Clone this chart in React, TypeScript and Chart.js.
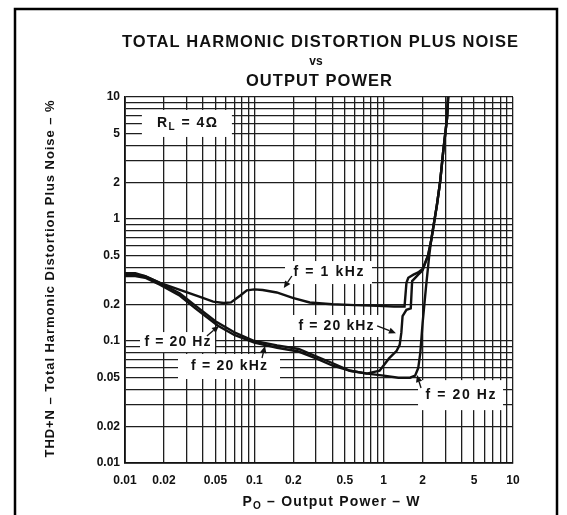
import React, { useEffect, useRef } from 'react';
import { Chart, registerables } from 'chart.js';

Chart.register(...registerables);

// ---------------- data ----------------
const xTickLabels = ['0.01', '0.02', '0.05', '0.1', '0.2', '0.5', '1', '2', '5', '10'];
const yTickLabels = ['0.01', '0.02', '0.05', '0.1', '0.2', '0.5', '1', '2', '5', '10'];
const gridDecades = [0.01, 0.1, 1];
const gridSteps = [1, 2, 3, 4, 5, 6, 7, 8, 9];
const axisMin = 0.01;
const axisMax = 10;

// f = 1 kHz
const power1kHz = [0.01, 0.012, 0.0143, 0.0186, 0.0266, 0.038, 0.048, 0.058, 0.066, 0.0775, 0.0875, 0.1, 0.116, 0.149, 0.198, 0.268, 0.4, 0.6, 0.9, 1.2, 1.45, 1.5, 1.55, 1.7, 1.85, 2.0, 2.2, 2.32, 2.58, 2.73, 2.88, 3.09, 3.15];
const thd1kHz = [0.36, 0.36, 0.34, 0.3, 0.262, 0.23, 0.21, 0.205, 0.207, 0.235, 0.26, 0.265, 0.262, 0.25, 0.226, 0.207, 0.2, 0.197, 0.194, 0.192, 0.192, 0.3, 0.33, 0.35, 0.365, 0.39, 0.5, 0.65, 1.3, 2.0, 3.5, 6.7, 10];

// f = 20 kHz
const power20kHz = [0.01, 0.012, 0.0143, 0.0186, 0.0266, 0.035, 0.05, 0.07, 0.1, 0.15, 0.22, 0.3, 0.4, 0.55, 0.74, 0.93, 1.1, 1.26, 1.33, 1.37, 1.4, 1.5, 1.62, 1.66, 1.85, 2.0, 2.2, 2.32, 2.58, 2.73, 2.88, 3.09, 3.15];
const thd20kHz = [0.35, 0.35, 0.34, 0.3, 0.245, 0.195, 0.145, 0.118, 0.1, 0.092, 0.086, 0.075, 0.066, 0.057, 0.054, 0.057, 0.072, 0.083, 0.093, 0.117, 0.16, 0.18, 0.185, 0.31, 0.35, 0.38, 0.5, 0.65, 1.3, 2.0, 3.5, 6.7, 10];

// f = 20 Hz
const power20Hz = [0.01, 0.012, 0.0143, 0.0186, 0.0266, 0.035, 0.052, 0.07, 0.1, 0.15, 0.22, 0.3, 0.4, 0.55, 0.75, 1.0, 1.3, 1.6, 1.75, 1.85, 1.92, 2.0, 2.12, 2.25, 2.32, 2.58, 2.73, 2.88, 3.09, 3.15];
const thd20Hz = [0.34, 0.34, 0.33, 0.29, 0.235, 0.185, 0.134, 0.112, 0.097, 0.088, 0.082, 0.072, 0.063, 0.057, 0.054, 0.052, 0.05, 0.05, 0.052, 0.06, 0.08, 0.14, 0.27, 0.5, 0.65, 1.3, 2.0, 3.5, 6.7, 10];

const titleLines = ['TOTAL HARMONIC DISTORTION PLUS NOISE', 'vs', 'OUTPUT POWER'];
type Run = [string, boolean];
const xAxisTitle: Run[] = [['P', false], ['O', true], [' – Output Power – W', false]];
const yAxisTitle: Run[] = [['THD+N – Total Harmonic Distortion Plus Noise – %', false]];

// annotation labels, anchored in data coordinates (P in W, THD+N in %)
const curveLabels = [
  { runs: [['R', false], ['L', true], [' = 4Ω', false]] as Run[], p: 0.0301, v: 6.07, w: 90, h: 27, tw: 60 },
  { runs: [['f = 1 kHz', false]] as Run[], p: 0.3746, v: 0.364, w: 87, h: 23, tw: 70 },
  { runs: [['f = 20 kHz', false]] as Run[], p: 0.428, v: 0.1327, w: 92, h: 22, tw: 75 },
  { runs: [['f = 20 Hz', false]] as Run[], p: 0.02547, v: 0.098, w: 75, h: 20, tw: 66 },
  { runs: [['f = 20 kHz', false]] as Run[], p: 0.0637, v: 0.0618, w: 102, h: 25, tw: 76 },
  { runs: [['f = 20 Hz', false]] as Run[], p: 3.93, v: 0.036, w: 85, h: 30, tw: 70 },
];
const arrowFromP = [0.195, 0.89, 0.043, 0.1146, 1.945];
const arrowFromV = [0.341, 0.133, 0.11, 0.0726, 0.0412];
const arrowToP = [0.169, 1.245, 0.0533, 0.121, 1.81];
const arrowToV = [0.272, 0.116, 0.133, 0.091, 0.0526];

// ---------------- helpers ----------------
const FAMILY = '"Liberation Sans", Arial, Helvetica, sans-serif';
const INK = '#111';

const gridValues: number[] = [];
gridDecades.forEach((d) => gridSteps.forEach((s) => gridValues.push(d * s)));
gridValues.push(axisMax);

const labelFor = (v: number, labels: string[]) => {
  const hit = labels.find((l) => Math.abs(parseFloat(l) / v - 1) < 1e-6);
  return hit === undefined ? '' : hit;
};

const toPoints = (xs: number[], ys: number[]) => xs.map((x, i) => ({ x, y: ys[i] }));

function drawRuns(ctx: CanvasRenderingContext2D, runs: Run[], cx: number, cy: number, size: number, target: number) {
  const subSize = size * 0.72;
  const fontFor = (sub: boolean) => `bold ${sub ? subSize : size}px ${FAMILY}`;
  const anyCtx = ctx as any;
  const canSpace = 'letterSpacing' in ctx;
  ctx.save();
  ctx.textBaseline = 'middle';
  ctx.textAlign = 'left';
  let natural = 0;
  let count = 0;
  const measured = runs.map(([t, sub]) => {
    ctx.font = fontFor(sub);
    if (canSpace) anyCtx.letterSpacing = '0px';
    const chars = Array.from(t);
    const widths = chars.map((c) => ctx.measureText(c).width);
    const w = ctx.measureText(t).width;
    natural += w;
    count += chars.length;
    return { t, sub, chars, widths, w };
  });
  const sp = target && count > 1 ? (target - natural) / (count - 1) : 0;
  let x = cx - (natural + sp * (count - 1)) / 2;
  for (const m of measured) {
    ctx.font = fontFor(m.sub);
    const y = m.sub ? cy + size * 0.3 : cy;
    if (canSpace) {
      anyCtx.letterSpacing = `${sp}px`;
      ctx.fillText(m.t, x, y);
      x += m.w + sp * m.chars.length;
    } else {
      for (let i = 0; i < m.chars.length; i++) {
        ctx.fillText(m.chars[i], x, y);
        x += m.widths[i] + sp;
      }
    }
  }
  ctx.restore();
}

const decorPlugin = {
  id: 'decor',
  beforeDraw(chart: any) {
    const ctx: CanvasRenderingContext2D = chart.ctx;
    ctx.save();
    ctx.fillStyle = '#fff';
    ctx.fillRect(0, 0, chart.width, chart.height);
    ctx.strokeStyle = '#000';
    ctx.lineWidth = 2.5;
    ctx.strokeRect(15, 9, 542, 540);
    ctx.fillStyle = INK;
    drawRuns(ctx, [[titleLines[0], false]], 320, 42, 16.5, 396);
    drawRuns(ctx, [[titleLines[1], false]], 316, 62, 12, 0);
    drawRuns(ctx, [[titleLines[2], false]], 319, 81, 16.5, 146);
    drawRuns(ctx, xAxisTitle, 331, 502, 14, 177);
    ctx.translate(50, 279);
    ctx.rotate(-Math.PI / 2);
    drawRuns(ctx, yAxisTitle, 0, 0, 13, 357);
    ctx.restore();
  },
  beforeDatasetsDraw(chart: any) {
    const ctx: CanvasRenderingContext2D = chart.ctx;
    const xs = chart.scales.x;
    const ys = chart.scales.y;
    ctx.save();
    for (const lab of curveLabels) {
      const cx = xs.getPixelForValue(lab.p);
      const cy = ys.getPixelForValue(lab.v);
      ctx.fillStyle = '#fff';
      ctx.fillRect(cx - lab.w / 2, cy - lab.h / 2, lab.w, lab.h);
      ctx.fillStyle = INK;
      drawRuns(ctx, lab.runs, cx, cy, 14, lab.tw);
    }
    ctx.restore();
  },
  afterDatasetsDraw(chart: any) {
    const ctx: CanvasRenderingContext2D = chart.ctx;
    const xs = chart.scales.x;
    const ys = chart.scales.y;
    ctx.save();
    ctx.strokeStyle = INK;
    ctx.fillStyle = INK;
    ctx.lineWidth = 1.3;
    for (let i = 0; i < arrowFromP.length; i++) {
      const x1 = xs.getPixelForValue(arrowFromP[i]);
      const y1 = ys.getPixelForValue(arrowFromV[i]);
      const x2 = xs.getPixelForValue(arrowToP[i]);
      const y2 = ys.getPixelForValue(arrowToV[i]);
      const a = Math.atan2(y2 - y1, x2 - x1);
      const len = 7;
      const half = 3.2;
      const bx = x2 - Math.cos(a) * len;
      const by = y2 - Math.sin(a) * len;
      ctx.beginPath();
      ctx.moveTo(x1, y1);
      ctx.lineTo(bx, by);
      ctx.stroke();
      ctx.beginPath();
      ctx.moveTo(x2, y2);
      ctx.lineTo(bx + Math.sin(a) * half, by - Math.cos(a) * half);
      ctx.lineTo(bx - Math.sin(a) * half, by + Math.cos(a) * half);
      ctx.closePath();
      ctx.fill();
    }
    ctx.restore();
  },
};

const lineStyle = {
  borderColor: INK,
  borderWidth: 2.4,
  pointRadius: 0,
  fill: false,
  tension: 0,
};

export default function App() {
  const ref = useRef<HTMLCanvasElement | null>(null);

  useEffect(() => {
    if (!ref.current) return;
    Chart.defaults.font.family = FAMILY;
    const tickFont = { size: 12, weight: 'bold' as const };
    const chart = new Chart(ref.current, {
      type: 'line',
      data: {
        datasets: [
          { label: 'f = 1 kHz', data: toPoints(power1kHz, thd1kHz), ...lineStyle },
          { label: 'f = 20 kHz', data: toPoints(power20kHz, thd20kHz), ...lineStyle },
          { label: 'f = 20 Hz', data: toPoints(power20Hz, thd20Hz), ...lineStyle },
        ],
      },
      options: {
        responsive: false,
        animation: false,
        events: [],
        layout: { padding: { left: 0, right: 54, top: 97, bottom: 0 } },
        plugins: {
          legend: { display: false },
          title: { display: false },
          tooltip: { enabled: false },
        },
        scales: {
          x: {
            type: 'logarithmic',
            min: axisMin,
            max: axisMax,
            afterFit: (s: any) => {
              s.height = 52;
            },
            afterBuildTicks: (s: any) => {
              s.ticks = gridValues.map((value) => ({ value }));
            },
            ticks: {
              autoSkip: false,
              maxRotation: 0,
              minRotation: 0,
              padding: 10,
              color: INK,
              font: tickFont,
              callback: (v: any) => labelFor(Number(v), xTickLabels),
            },
            grid: { color: '#1e1e1e', lineWidth: 1.3, drawTicks: false },
            border: { color: INK, width: 1.8 },
          },
          y: {
            type: 'logarithmic',
            min: axisMin,
            max: axisMax,
            afterFit: (s: any) => {
              s.width = 125;
            },
            afterBuildTicks: (s: any) => {
              s.ticks = gridValues.map((value) => ({ value }));
            },
            ticks: {
              autoSkip: false,
              padding: 5,
              color: INK,
              font: tickFont,
              callback: (v: any) => labelFor(Number(v), yTickLabels),
            },
            grid: { color: '#1e1e1e', lineWidth: 1.3, drawTicks: false },
            border: { color: INK, width: 1.8 },
          },
        },
      },
      plugins: [decorPlugin],
    } as any);
    return () => chart.destroy();
  }, []);

  return (
    <div style={{ position: 'absolute', left: 0, top: 0, width: 567, height: 515, background: '#fff' }}>
      <canvas ref={ref} width={567} height={515} style={{ display: 'block' }} />
    </div>
  );
}
